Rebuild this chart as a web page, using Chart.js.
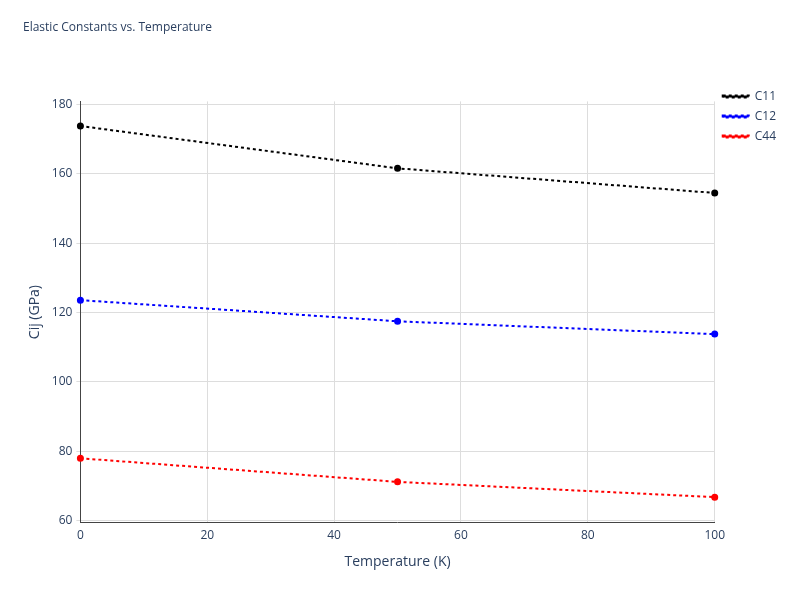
<!DOCTYPE html>
<html>
<head>
<script src="https://cdn.jsdelivr.net/npm/chart.js@4"></script>
<style>
body { margin: 0; background: #fff; }
#wrap { width: 800px; height: 600px; position: relative; }
</style>
</head>
<body>
<div id="wrap"><canvas id="c" width="800" height="600"></canvas></div>
<script>
// data
const temps = [0, 50, 100];
const c11 = [173.8, 161.6, 154.5];
const c12 = [123.6, 117.5, 113.8];
const c44 = [78.0, 71.2, 66.8];
const yTicks = [60, 80, 100, 120, 140, 160, 180];
const xTicks = [0, 20, 40, 60, 80, 100];

function series(label, values, color) {
    return {
        label: label,
        data: temps.map((t, i) => ({x: t, y: values[i]})),
        borderColor: color,
        backgroundColor: color,
        borderWidth: 2,
        borderDash: [3, 3],
        pointRadius: 2.5,
        pointHoverRadius: 4,
        showLine: true,
        fill: false,
        clip: false
    };
}

const font = {family: '"Open Sans", sans-serif', size: 12};
const textColor = '#2a3f5f';

new Chart(document.getElementById('c').getContext('2d'), {
    type: 'scatter',
    data: {
        datasets: [
            series('C11', c11, 'black'),
            series('C12', c12, 'blue'),
            series('C44', c44, 'red')
        ]
    },
    options: {
        responsive: false,
        animation: false,
        layout: {padding: {left: 23, right: 14, top: 20, bottom: 26}},
        scales: {
            x: {
                type: 'linear', min: 0, max: 100,
                afterBuildTicks: s => { s.ticks = xTicks.map(v => ({value: v})); },
                title: {display: true, text: 'Temperature (K)', color: textColor, font: {family: font.family, size: 14}},
                grid: {color: '#dddddd', drawTicks: false},
                border: {color: '#444', display: true},
                ticks: {color: textColor, font: font, padding: 6}
            },
            y: {
                type: 'linear', min: 59.4, max: 180.9,
                afterBuildTicks: s => { s.ticks = yTicks.map(v => ({value: v})); },
                title: {display: true, text: 'Cij (GPa)', color: textColor, font: {family: font.family, size: 14}},
                grid: {color: '#dddddd', drawTicks: true, tickLength: 4},
                border: {color: '#444', display: true},
                ticks: {color: textColor, font: font, padding: 4}
            }
        },
        plugins: {
            title: {
                display: true, text: 'Elastic Constants vs. Temperature',
                align: 'start', color: textColor,
                font: {family: font.family, size: 12, weight: 'normal'},
                padding: {top: 0, bottom: 67}
            },
            legend: {
                position: 'right', align: 'start',
                title: {display: true, text: ' ', padding: {top: 60, bottom: 0}, font: {size: 2}},
                labels: {
                    color: textColor, font: font,
                    usePointStyle: false, boxWidth: 26, boxHeight: 2,
                    padding: 8
                }
            },
            tooltip: {enabled: false}
        }
    }
});
</script>
</body>
</html>
